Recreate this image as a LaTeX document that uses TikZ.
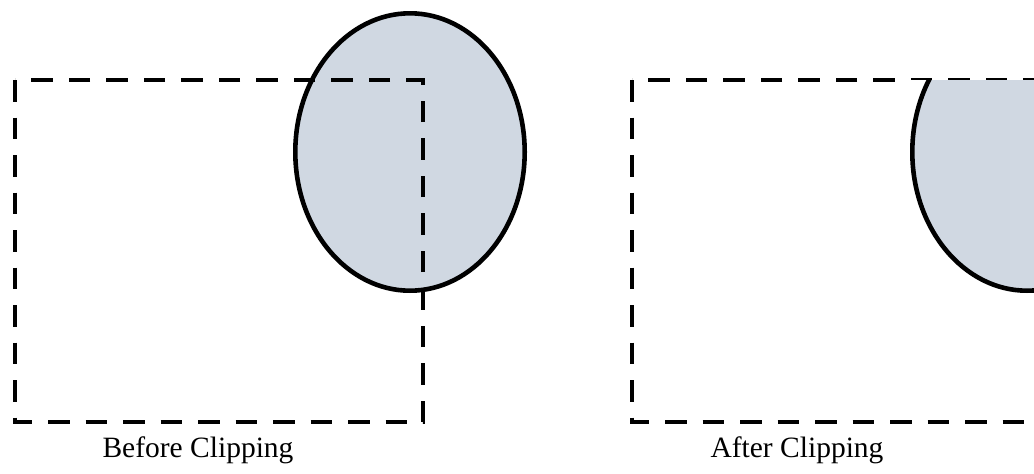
\documentclass[tikz,border=0pt]{standalone}
\usepackage{fontspec}
\setmainfont{Liberation Serif}
\definecolor{shapefill}{RGB}{208,216,226}
\begin{document}
\begin{tikzpicture}[x=1pt,y=-1pt,
  cliprect/.style={draw=black, line width=4.3pt, dash pattern=on 21.5pt off 16pt},
  blob/.style={fill=shapefill, draw=black, line width=4.6pt},
  caption/.style={font=\fontsize{29.5}{31}\selectfont, anchor=base, inner sep=0pt}]
\useasboundingbox (0,0) rectangle (1034,474);
\clip (0,0) rectangle (1034,474);
% corners of the two clip rectangles
\coordinate (L1) at (15,80);   \coordinate (L2) at (15,422);
\coordinate (L3) at (423,422); \coordinate (L4) at (423,80);
\coordinate (R1) at (632,80);  \coordinate (R2) at (632,422);
\coordinate (R3) at (1040,422);\coordinate (R4) at (1040,80);
\coordinate (LC) at (410,152);
\coordinate (RC) at (1027,152);
% before clipping
\draw[blob] (LC) ellipse [x radius=114.7, y radius=138.7];
\draw[cliprect] (L1) -- (L2) -- (L3) -- (L4) -- cycle;
% after clipping
\draw[cliprect] (R1) -- (R2) -- (R3) -- (R4) -- cycle;
\begin{scope}
  \clip (R1) -- (R2) -- (R3) -- (R4) -- cycle;
  \fill[white] (910.5,80) rectangle (1040,296);
  \draw[blob] (RC) ellipse [x radius=114.7, y radius=138.7];
\end{scope}
\node[caption] (before) at (198,457) {Before Clipping};
\node[caption] (after) at (797,457) {After Clipping};
\end{tikzpicture}
\end{document}
